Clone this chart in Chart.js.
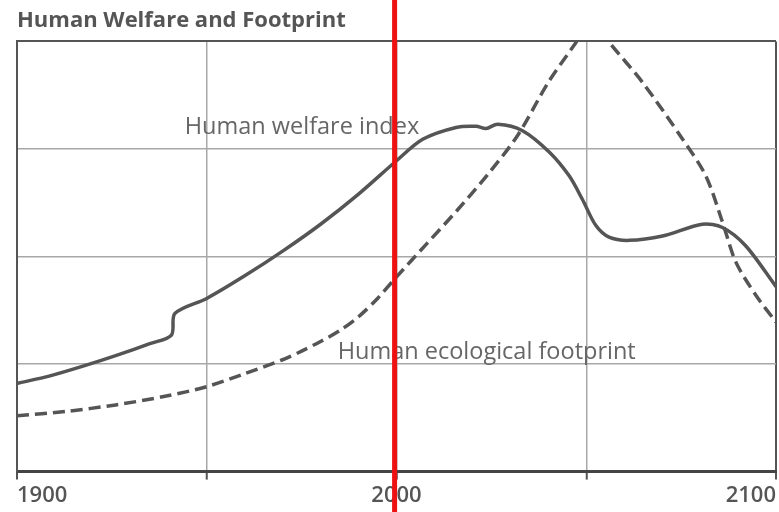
<!DOCTYPE html>
<html>
<head>
<meta charset="utf-8">
<script src="https://cdn.jsdelivr.net/npm/chart.js@4.4.1/dist/chart.umd.min.js"></script>
<style>
  html, body { margin: 0; padding: 0; background: #fff; }
  #wrap { width: 779px; height: 512px; }
</style>
</head>
<body>
<div id="wrap"><canvas id="footprintChart"></canvas></div>
<script>
// tick positions on the time axis (only the centuries get a label)
const xTicks = [1900, 1950, 2000, 2050, 2100];

// Human welfare index
const welfareYears  = [1900, 1908.7, 1917.4, 1926.2, 1935, 1940.7, 1941.6, 1950, 1960, 1970, 1980, 1990, 2000, 2006.9, 2015.7, 2021, 2023.6, 2026.7, 2033.2, 2040.3, 2045.5, 2049, 2052.5, 2056, 2061.3, 2070.1, 2080.6, 2085.9, 2092, 2100];
const welfareValues = [0.82, 0.89, 0.98, 1.08, 1.19, 1.27, 1.47, 1.61, 1.82, 2.05, 2.30, 2.58, 2.89, 3.09, 3.20, 3.21, 3.19, 3.23, 3.17, 2.97, 2.75, 2.53, 2.29, 2.18, 2.15, 2.19, 2.30, 2.27, 2.10, 1.72];

// Human ecological footprint
const footprintYears  = [1900, 1913, 1926, 1939, 1950, 1960, 1970, 1975, 1980, 1985, 1990, 1995, 2000, 2008, 2016, 2024, 2032, 2040, 2047.3, 2051.6, 2056.1, 2064.8, 2075.4, 2081.5, 2085.9, 2089.4, 2094.7, 2100];
const footprintValues = [0.52, 0.56, 0.62, 0.70, 0.79, 0.91, 1.04, 1.12, 1.21, 1.31, 1.44, 1.61, 1.81, 2.12, 2.43, 2.76, 3.13, 3.62, 3.99, 4.21, 3.99, 3.62, 3.09, 2.75, 2.32, 1.95, 1.64, 1.39];

const seriesLabels = ["Human welfare index", "Human ecological footprint"];
const markerYear = 1999.5;

const ink = "#555555";
const gridGray = "#a8a8a8";

const toPoints = (xs, ys) => xs.map((x, i) => ({ x, y: ys[i] }));

// series names written inside the plot, plus the red year marker
const overlayPlugin = {
  id: "overlay",
  afterDatasetsDraw(chart) {
    const { ctx, scales: { x, y } } = chart;
    ctx.save();
    ctx.font = '23.5px "Open Sans"';
    ctx.fillStyle = "#666666";
    ctx.textBaseline = "middle";
    ctx.fillText(seriesLabels[0], x.getPixelForValue(1944.2), y.getPixelForValue(3.2));
    ctx.fillText(seriesLabels[1], x.getPixelForValue(1984.5), y.getPixelForValue(1.11));
    ctx.restore();
  },
  afterDraw(chart) {
    const { ctx, scales: { x } } = chart;
    const px = x.getPixelForValue(markerYear);
    ctx.save();
    ctx.strokeStyle = "#ee1111";
    ctx.lineWidth = 5;
    ctx.beginPath();
    ctx.moveTo(px, 0);
    ctx.lineTo(px, chart.height);
    ctx.stroke();
    ctx.restore();
  }
};

new Chart(document.getElementById("footprintChart"), {
  type: "line",
  data: {
    datasets: [
      {
        label: seriesLabels[0],
        data: toPoints(welfareYears, welfareValues),
        borderColor: ink,
        borderWidth: 3.5,
        pointRadius: 0,
        tension: 0.3
      },
      {
        label: seriesLabels[1],
        data: toPoints(footprintYears, footprintValues),
        borderColor: ink,
        borderWidth: 3.5,
        borderDash: [12, 6],
        pointRadius: 0,
        tension: 0.3
      }
    ]
  },
  options: {
    responsive: true,
    maintainAspectRatio: false,
    animation: false,
    layout: { padding: { left: 17, right: 2, bottom: 0 } },
    plugins: {
      legend: { display: false },
      tooltip: { enabled: false },
      title: {
        display: true,
        text: "Human Welfare and Footprint",
        align: "start",
        color: ink,
        font: { family: "Open Sans", size: 22, weight: "bold" },
        padding: { top: 8, bottom: 7 }
      }
    },
    scales: {
      x: {
        type: "linear",
        min: 1900,
        max: 2100,
        afterBuildTicks: scale => { scale.ticks = xTicks.map(v => ({ value: v })); },
        ticks: {
          align: "inner",
          maxRotation: 0,
          padding: 3,
          color: ink,
          font: { family: "Open Sans", size: 22, weight: "600" },
          callback: v => (v % 100 === 0 ? String(v) : "")
        },
        grid: {
          color: c => (c.tick && (c.tick.value === 1900 || c.tick.value === 2100) ? ink : gridGray),
          lineWidth: c => (c.tick && (c.tick.value === 1900 || c.tick.value === 2100) ? 2 : 1.5),
          tickLength: 8,
          tickColor: ink,
          tickWidth: 2
        },
        border: { color: "#444444", width: 3 }
      },
      y: {
        min: 0,
        max: 4,
        ticks: { stepSize: 1, display: false },
        grid: {
          color: c => (c.tick && c.tick.value === 4 ? ink : gridGray),
          lineWidth: c => (c.tick && c.tick.value === 4 ? 2 : 1.5),
          drawTicks: false
        },
        border: { color: ink, width: 2 }
      }
    }
  },
  plugins: [overlayPlugin]
});
</script>
</body>
</html>
